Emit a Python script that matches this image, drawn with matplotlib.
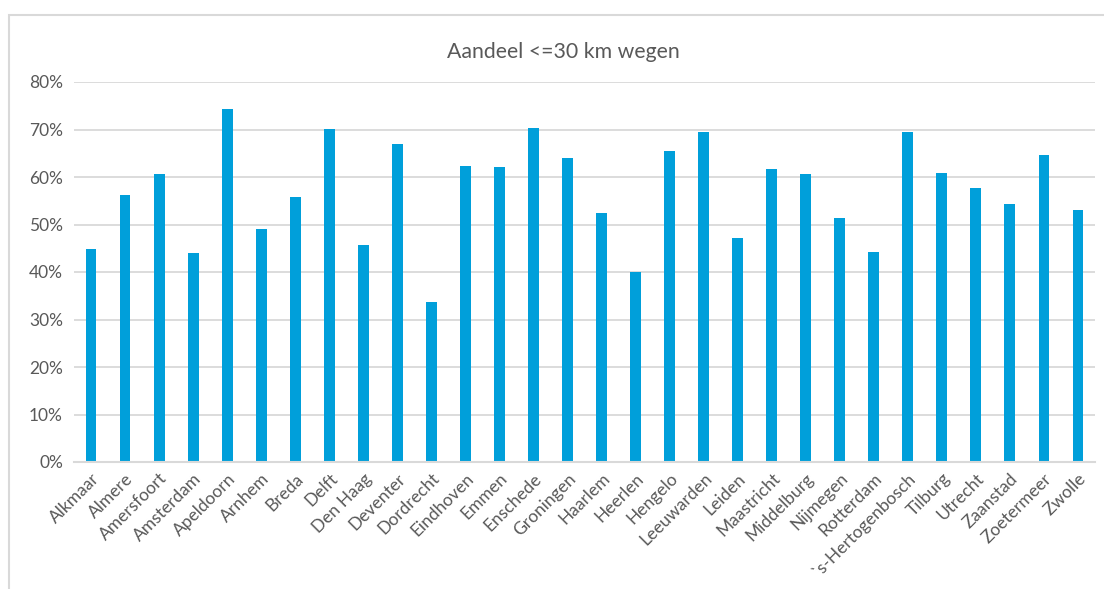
import matplotlib.pyplot as plt
from matplotlib.patches import Rectangle
from matplotlib.ticker import PercentFormatter

plt.rcParams['font.family'] = ['Lato', 'DejaVu Sans']

steden = ['Alkmaar', 'Almere', 'Amersfoort', 'Amsterdam', 'Apeldoorn', 'Arnhem', 'Breda',
          'Delft', 'Den Haag', 'Deventer', 'Dordrecht', 'Eindhoven', 'Emmen', 'Enschede',
          'Groningen', 'Haarlem', 'Heerlen', 'Hengelo', 'Leeuwarden', 'Leiden', 'Maastricht',
          'Middelburg', 'Nijmegen', 'Rotterdam', '`s-Hertogenbosch', 'Tilburg', 'Utrecht',
          'Zaanstad', 'Zoetermeer', 'Zwolle']
aandeel = [44.9, 56.2, 60.6, 44.0, 74.3, 49.1, 55.8,
           70.1, 45.6, 66.9, 33.6, 62.3, 62.1, 70.3,
           63.9, 52.5, 39.9, 65.4, 69.5, 47.2, 61.6,
           60.6, 51.3, 44.3, 69.5, 60.8, 57.7,
           54.4, 64.6, 53.1]

tekst = '#595959'
fig = plt.figure(figsize=(11.04, 5.89), dpi=100)
ax = fig.add_axes([74/1104, 1-462/589, (1095-74)/1104, 380/589])

x = range(len(steden))
ax.bar(x, aandeel, width=0.32, color='#009FDA', zorder=3)
ax.set_xlim(-0.5, len(steden) - 0.5)
ax.set_ylim(0, 80)
ax.set_yticks(range(0, 81, 10))
ax.yaxis.set_major_formatter(PercentFormatter(decimals=0))
ax.set_xticks(list(x))
ax.set_xticklabels(steden, rotation=45, ha='right', rotation_mode='anchor')
ax.tick_params(axis='both', length=0, colors=tekst, labelsize=12.5)
ax.tick_params(axis='y', pad=8)
ax.tick_params(axis='x', pad=6)
ax.grid(axis='y', color='#D9D9D9', linewidth=1.3, zorder=0)
for s in ['top', 'right', 'left']:
    ax.spines[s].set_visible(False)
ax.spines['bottom'].set_color('#D9D9D9')
ax.spines['bottom'].set_linewidth(1.5)
ax.spines['bottom'].set_zorder(4)

fig.text(563/1104, 1-52/589, 'Aandeel <=30 km wegen', ha='center', va='center',
         fontsize=15.3, color=tekst)
fig.patches.append(Rectangle((9/1104, -0.1), 1.2, 1 - 15/589 + 0.1, transform=fig.transFigure,
                             fill=False, edgecolor='#D9D9D9', linewidth=1.5))

fig.savefig('out.png', dpi=100)
